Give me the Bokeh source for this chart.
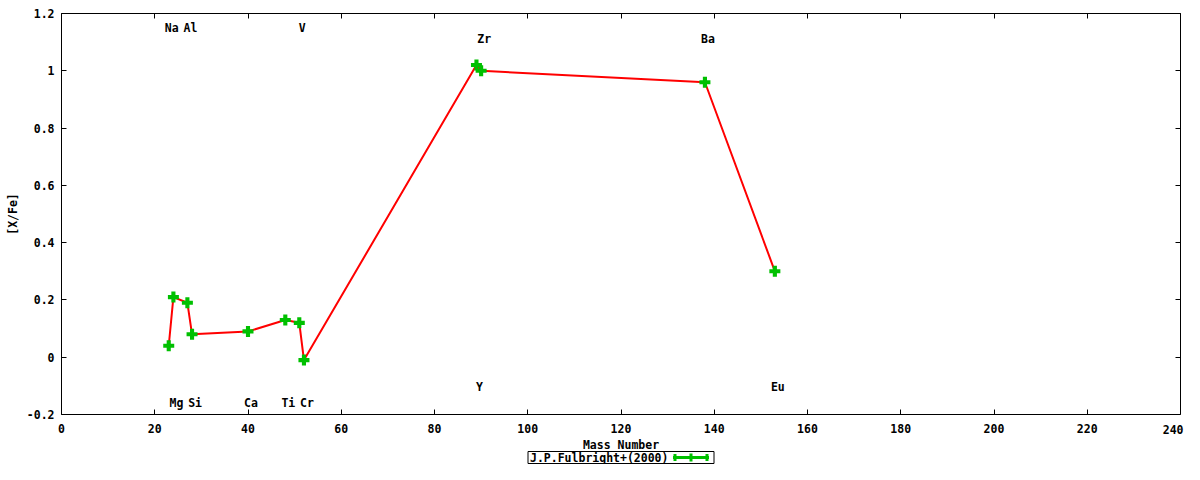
import math
from bokeh.plotting import figure
from bokeh.models import (Range1d, LinearAxis, FixedTicker, PrintfTickFormatter,
                          ColumnDataSource)
from bokeh.core.properties import value
from bokeh.embed import file_html
from bokeh.resources import INLINE

# ---- data ----
elements = ["Na", "Mg", "Al", "Si", "Ca", "Ti", "V", "Cr", "Y", "Zr", "Ba", "Eu"]
mass = [23, 24, 27, 28, 40, 48, 51, 52, 89, 90, 138, 153]
xfe = [0.04, 0.21, 0.19, 0.08, 0.09, 0.13, 0.12, -0.01, 1.02, 1.00, 0.96, 0.30]
label_y = [1.15, -0.16, 1.15, -0.16, -0.16, -0.16, 1.15, -0.16, -0.105, 1.11, 1.11, -0.105]
x_ticks = [0, 20, 40, 60, 80, 100, 120, 140, 160, 180, 200, 220, 240]
y_ticks = [-0.2, 0, 0.2, 0.4, 0.6, 0.8, 1.0, 1.2]
series_name = "J.P.Fulbright+(2000)"
x_title = "Mass Number"
y_title = "[X/Fe]"

FONT = "DejaVu Sans Mono"
FS = "11.5px"
RED = "#ff0000"
GREEN = "#00c000"

X0, X1 = 0, 240
Y0, Y1 = -0.2, 1.2

# layout (pixels): the frame fills the canvas, the plot box sits inside it
W, H = 1184, 464
LEFT, RIGHT, TOP = 61, 4, 13
BOX_W, BOX_H = W - LEFT - RIGHT, 401
XPX = (X1 - X0) / BOX_W          # data units per pixel (x)
YPX = (Y1 - Y0) / BOX_H          # data units per pixel (y)

p = figure(width=W, height=H,
           x_range=Range1d(X0 - LEFT * XPX, X1 + RIGHT * XPX),
           y_range=Range1d(Y1 - (H - TOP) * YPX, Y1 + TOP * YPX),
           output_backend="svg", toolbar_location=None,
           min_border_left=0, min_border_right=0,
           min_border_top=0, min_border_bottom=0)
p.background_fill_color = "white"
p.border_fill_color = "white"
p.outline_line_color = None
p.xgrid.visible = False
p.ygrid.visible = False

def style_axis(ax, show_labels=True):
    ax.major_tick_in = 5
    ax.major_tick_out = 0
    ax.minor_tick_line_color = None
    ax.axis_line_color = "black"
    ax.major_tick_line_color = "black"
    ax.major_label_text_font = FONT
    ax.major_label_text_font_style = "bold"
    if show_labels:
        ax.major_label_text_font_size = FS
        ax.major_label_text_color = "black"
    else:
        ax.major_label_text_font_size = "0px"
        ax.major_label_text_color = None
        ax.major_label_standoff = 0

xax = p.xaxis[0]
yax = p.yaxis[0]
xax.fixed_location = Y0
xax.bounds = (X0, X1)
xax.ticker = FixedTicker(ticks=x_ticks[:-1])
yax.fixed_location = X0
yax.bounds = (Y0, Y1)
yax.ticker = FixedTicker(ticks=y_ticks)
yax.formatter = PrintfTickFormatter(format="%g")
style_axis(xax)
style_axis(yax)
xax.major_label_standoff = 9
yax.major_label_standoff = 7

top = LinearAxis(ticker=FixedTicker(ticks=x_ticks), fixed_location=Y1, bounds=(X0, X1))
right = LinearAxis(ticker=FixedTicker(ticks=y_ticks), fixed_location=X1, bounds=(Y0, Y1))
style_axis(top, False)
style_axis(right, False)
p.add_layout(top, "above")
p.add_layout(right, "right")

# last x tick label, kept inside the canvas
p.text(x=[x_ticks[-1]], y=[Y0], text=[str(x_ticks[-1])], x_offset=3, y_offset=15,
       text_font=value(FONT), text_font_size=FS, text_font_style="bold",
       text_color="black", text_align="right", text_baseline="middle")

# axis titles
p.text(x=[(X0 + X1) / 2], y=[Y0], text=[x_title], y_offset=30,
       text_font=value(FONT), text_font_size=FS, text_font_style="bold",
       text_color="black", text_align="center", text_baseline="middle")
p.text(x=[X0], y=[(Y0 + Y1) / 2], text=[y_title], x_offset=-48.5, angle=math.pi / 2,
       text_font=value(FONT), text_font_size=FS, text_font_style="bold",
       text_color="black", text_align="center", text_baseline="middle")

src = ColumnDataSource(dict(mass=mass, xfe=xfe, el=elements, ly=label_y))

p.line("mass", "xfe", source=src, line_color=RED, line_width=2)
p.scatter("mass", "xfe", source=src, marker="plus", size=11,
          fill_color=GREEN, line_color=None)

p.text("mass", "ly", text="el", source=src, text_font=value(FONT),
       text_font_size=FS, text_font_style="bold", text_color="black",
       text_align="center", text_baseline="middle", x_offset=3)

# ---- key below the plot box: text first, then the sample ----
key_x = (X0 + X1) / 2
key_y = Y0 - 43 * YPX
p.rect(x=[key_x], y=[key_y], width=186, height=12,
       width_units="screen", height_units="screen",
       fill_color="white", line_color="black", line_width=1)
p.text(x=[key_x], y=[key_y], text=[series_name], x_offset=-91,
       text_font=value(FONT), text_font_size=FS, text_font_style="bold",
       text_color="black", text_align="left", text_baseline="middle")
sx0, sx1 = key_x + 52 * XPX, key_x + 88 * XPX
p.line([sx0, sx1], [key_y, key_y], line_color=GREEN, line_width=3)
p.scatter([sx0 + 2 * XPX, sx1 - 2 * XPX], [key_y, key_y], marker="dash",
          angle=math.pi / 2, size=7, line_color=GREEN, line_width=3)
p.scatter([(sx0 + sx1) / 2], [key_y], marker="plus", size=8,
          fill_color=GREEN, line_color=None)

open("out.html", "w").write(file_html(p, INLINE))
